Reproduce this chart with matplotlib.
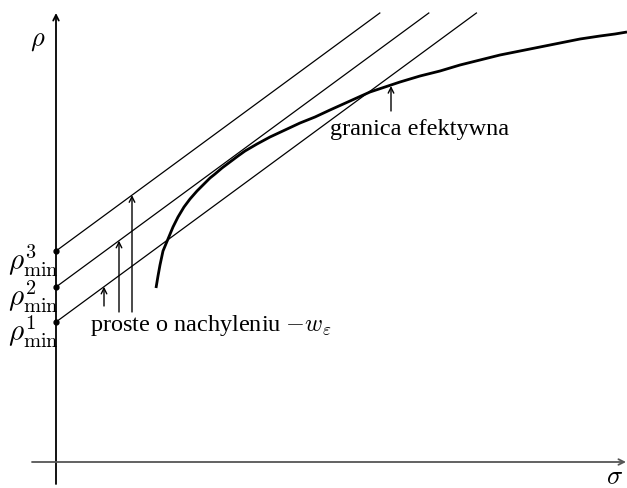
import numpy as np
import matplotlib.pyplot as plt

plt.rcParams['mathtext.fontset'] = 'cm'
plt.rcParams['font.family'] = ['Liberation Serif', 'DejaVu Serif']

# canvas units are pixels, y grows downward
W, H = 627, 488
origin = (56, 462)

# intercepts of the three parallel lines on the rho axis and their common slope
rho_min_y = [322, 287, 251]
line_top_y = 13
slope = 0.735

# efficient frontier, sampled points
front_x = [156, 158, 160, 163, 168, 173, 178, 184, 190, 197, 203, 210, 215, 222, 230,
           238, 245, 257, 270, 285, 300, 315, 330, 350, 370, 385, 400, 420, 440, 460,
           480, 500, 520, 540, 560, 580, 600, 615, 627]
front_y = [288, 276, 265, 251, 239, 227, 217, 207, 199, 191, 185, 178, 174, 168, 162,
           156, 151, 144, 137, 130, 123, 117, 110, 101, 92, 87, 82, 76, 71, 65,
           60, 55, 51, 47, 43, 39, 36, 34, 32]

# small arrows pointing at the lines
arrow_x = [104, 119, 132]
arrow_from_y = [306, 312, 312]

fig = plt.figure(figsize=(W / 100, H / 100), dpi=100)
ax = fig.add_axes([0, 0, 1, 1])
ax.set_xlim(0, W)
ax.set_ylim(H, 0)
ax.axis('off')

# axes
ax.annotate('', xy=(origin[0], 13), xytext=(origin[0], 484),
            arrowprops=dict(arrowstyle='->', lw=1.3, color='black', shrinkA=0, shrinkB=0))
ax.annotate('', xy=(626, origin[1]), xytext=(32, origin[1]),
            arrowprops=dict(arrowstyle='->', lw=1.3, color='#555555', shrinkA=0, shrinkB=0))

# parallel lines
for y0 in rho_min_y:
    x1 = origin[0] + (y0 - line_top_y) / slope
    ax.plot([origin[0], x1], [y0, line_top_y], color='black', lw=0.9)
    ax.plot(origin[0], y0, 'o', color='black', ms=3.5)

ax.plot(front_x, front_y, color='black', lw=2.0, solid_capstyle='butt')

for xa, ya, y0 in zip(arrow_x, arrow_from_y, rho_min_y):
    yt = y0 - slope * (xa - origin[0])
    ax.annotate('', xy=(xa, yt), xytext=(xa, ya),
                arrowprops=dict(arrowstyle='->', lw=1.0, color='black', shrinkA=0, shrinkB=0))

# arrow to the frontier
ax.annotate('', xy=(391, 86), xytext=(391, 111),
            arrowprops=dict(arrowstyle='->', lw=1.0, color='black', shrinkA=0, shrinkB=0))

ax.text(30, 42, r'$\rho$', fontsize=19, ha='left', va='center')
ax.text(606, 478, r'$\sigma$', fontsize=19, ha='left', va='center')
for y0, k in zip(rho_min_y, [1, 2, 3]):
    ax.text(8, y0 + 10, r'$\rho_{\mathrm{min}}^{%d}$' % k, fontsize=21, ha='left', va='center')

ax.text(90, 326, r'proste o nachyleniu $-w_\varepsilon$', fontsize=17.5, ha='left', va='center')
ax.text(330, 129, 'granica efektywna', fontsize=17.5, ha='left', va='center')

fig.savefig('out.png', dpi=100)
